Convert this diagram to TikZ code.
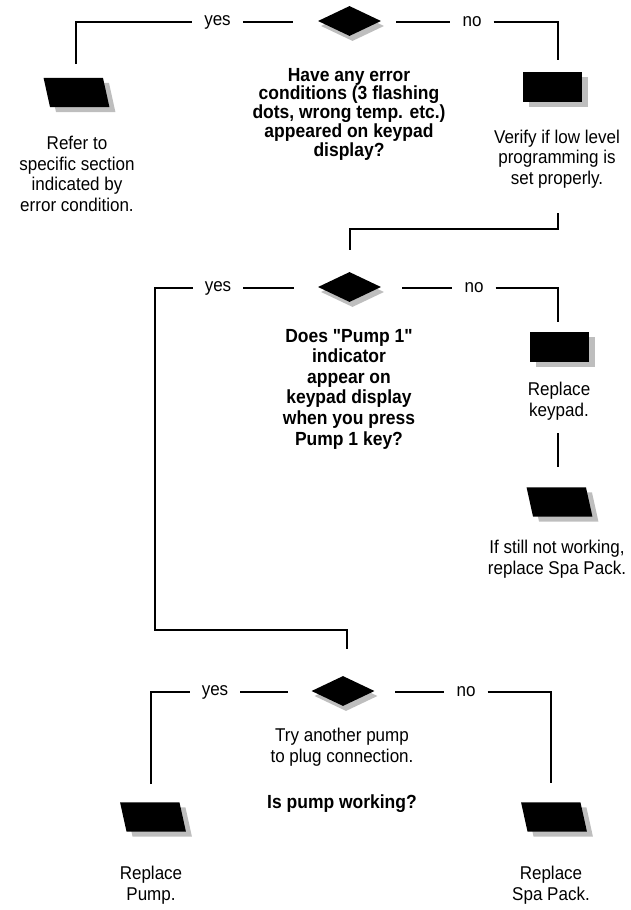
\documentclass[tikz,border=0pt]{standalone}
\usepackage{fontspec}
\setmainfont{Liberation Sans}[Ligatures=TeXOff, FakeStretch=0.92]
\usetikzlibrary{shapes.geometric,shadows}
\definecolor{shadowgray}{HTML}{BEBEBE}
\tikzset{
  conn/.style={line width=1.1pt},
  sh/.style={drop shadow={shadow xshift=#1, shadow yshift=-5pt, fill=shadowgray, opacity=1}},
  decision/.style={diamond, fill=black, inner sep=0pt, aspect=2.1,
    minimum width=63pt, minimum height=30pt, sh=3pt},
  procbox/.style={rectangle, fill=black, inner sep=0pt,
    minimum width=59pt, minimum height=30pt, sh=6pt},
  iobox/.style={rectangle, inner sep=0pt, minimum width=59pt, minimum height=29pt},
  lbl/.style={font=\fontsize{18.5}{20}\selectfont, inner ysep=0pt, inner xsep=12pt},
  txt/.style={align=center, inner sep=0pt, font=\fontsize{18.5}{20.5}\selectfont},
  qtxt/.style={align=center, inner sep=0pt, font=\bfseries\fontsize{19}{#1}\selectfont},
  qtxt/.default=17.5
}
\newcommand\ioshape[1]{%
  \fill[shadowgray] ([shift={(2.75,5)}]#1.north west) -- ([shift={(2.75,5)}]#1.north east)
     -- ([shift={(9.25,5)}]#1.south east) -- ([shift={(9.25,5)}]#1.south west) -- cycle;
  \fill[black] ([shift={(-3.25,0)}]#1.north west) -- ([shift={(-3.25,0)}]#1.north east)
     -- ([shift={(3.25,0)}]#1.south east) -- ([shift={(3.25,0)}]#1.south west) -- cycle;}
\begin{document}
\begin{tikzpicture}[x=1pt,y=-1pt]
\useasboundingbox (0,0) rectangle (631,910);

% ---------- Block 1
\node[decision] (d1) at (349.5,21) {};
\node[lbl] (yes1) at (217.5,22) {yes};
\node[lbl] (no1) at (472,22) {no};
\node[iobox] (p1) at (76.5,92.5) {};
\ioshape{p1}
\node[procbox] (r1) at (552.5,87) {};
\node[txt] (t1) at (77,174) {Refer to\\specific section\\indicated by\\error condition.};
\node[qtxt] (q1) at (349,114) {Have any error\\conditions (3 flashing\\dots, wrong temp. etc.)\\appeared on keypad\\display?};
\node[txt] (t2) at (557,159) {Verify if low level\\programming is\\set properly.};

\coordinate (a1) at (76,64);
\coordinate (a2) at (293,22);
\coordinate (a3) at (396,22);
\coordinate (a4) at (558,60);
\draw[conn] (a1) |- (yes1.west);
\draw[conn] (yes1.east) -- (a2);
\draw[conn] (a3) -- (no1.west);
\draw[conn] (no1.east) -| (a4);

% ---------- Block 2
\coordinate (b1) at (558,213);
\coordinate (b2) at (350,250);
\draw[conn] (b1) -- (558,229) -| (b2);

\node[decision] (d2) at (349.5,287) {};
\node[lbl] (yes2) at (218,288) {yes};
\node[lbl] (no2) at (474,288) {no};
\node[qtxt=20.6] (q2) at (349,389) {Does "Pump 1"\\indicator\\appear on\\keypad display\\when you press\\Pump 1 key?};
\node[procbox] (r2) at (559.5,347) {};
\node[txt] (t3) at (559,401) {Replace\\keypad.};
\node[iobox] (p2) at (559.5,502) {};
\ioshape{p2}
\node[txt] (t4) at (557,559) {If still not working,\\replace Spa Pack.};

\coordinate (b3) at (294,288);
\coordinate (b4) at (402,288);
\coordinate (b5) at (558,322);
\coordinate (b6) at (558,433);
\coordinate (b7) at (558,467);
\coordinate (b8) at (347,649);
\draw[conn] (yes2.east) -- (b3);
\draw[conn] (b4) -- (no2.west);
\draw[conn] (no2.east) -| (b5);
\draw[conn] (b6) -- (b7);
\draw[conn] (yes2.west) -- (155,288) -- (155,630) -| (b8);

% ---------- Block 3
\node[decision] (d3) at (343,691) {};
\node[lbl] (yes3) at (215,692) {yes};
\node[lbl] (no3) at (466,692) {no};
\node[txt] (t5) at (342,747) {Try another pump\\to plug connection.};
\node[qtxt] (t6) at (342,804) {Is pump working?};
\node[iobox] (p3) at (153,817) {};
\ioshape{p3}
\node[iobox] (p4) at (554,817) {};
\ioshape{p4}
\node[txt] (t7) at (151,885) {Replace\\Pump.};
\node[txt] (t8) at (551,885) {Replace\\Spa Pack.};

\coordinate (c1) at (151,784);
\coordinate (c2) at (288,692);
\coordinate (c3) at (395,692);
\coordinate (c4) at (551,783);
\draw[conn] (c1) |- (yes3.west);
\draw[conn] (yes3.east) -- (c2);
\draw[conn] (c3) -- (no3.west);
\draw[conn] (no3.east) -| (c4);
\end{tikzpicture}
\end{document}
